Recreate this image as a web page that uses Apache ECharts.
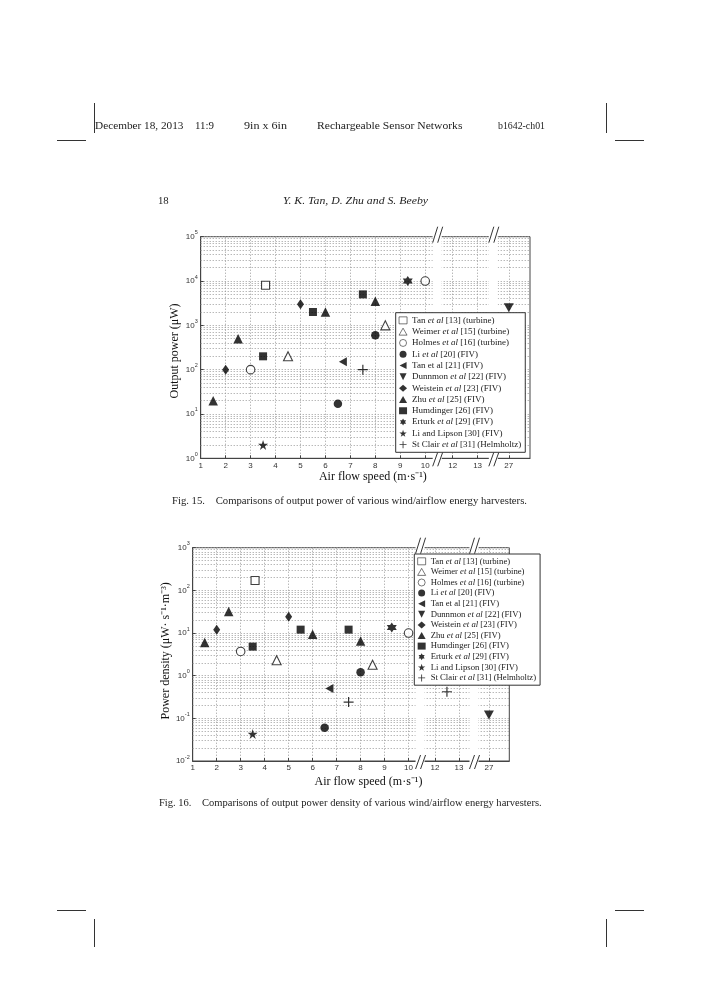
<!DOCTYPE html>
<html>
<head>
<meta charset="utf-8">
<script src="https://cdn.jsdelivr.net/npm/echarts@6/dist/echarts.min.js"></script>
<style>
  body { margin: 0; background: #fff; }
  #page { position: relative; width: 706px; height: 1000px; overflow: hidden; }
  #chart { position: absolute; left: 0; top: 0; width: 706px; height: 1000px; }
  .t { position: absolute; white-space: pre; font-family: "Liberation Serif", serif; color: #222;
       line-height: 1; transform-origin: 0 50%; }
  .mark { position: absolute; background: #333; }
</style>
</head>
<body>
<div id="page">
  <div id="chart"></div>

  <div class="mark" style="left:94px;top:103px;width:1px;height:30px"></div>
  <div class="mark" style="left:57px;top:140px;width:29px;height:1px"></div>
  <div class="mark" style="left:606px;top:103px;width:1px;height:30px"></div>
  <div class="mark" style="left:615px;top:140px;width:29px;height:1px"></div>
  <div class="mark" style="left:57px;top:910px;width:29px;height:1px"></div>
  <div class="mark" style="left:94px;top:919px;width:1px;height:28px"></div>
  <div class="mark" style="left:615px;top:910px;width:29px;height:1px"></div>
  <div class="mark" style="left:606px;top:919px;width:1px;height:28px"></div>

  <div class="t" data-x="95" data-y="125.5" data-w="88.5" style="font-size:11.4px">December 18, 2013</div>
  <div class="t" data-x="194.7" data-y="125.5" data-w="19" style="font-size:11.4px">11:9</div>
  <div class="t" data-x="243.7" data-y="125.5" data-w="43" style="font-size:11.4px">9in x 6in</div>
  <div class="t" data-x="317.2" data-y="125.5" data-w="145.4" style="font-size:11.4px">Rechargeable Sensor Networks</div>
  <div class="t" data-x="498.2" data-y="125.5" data-w="47" style="font-size:11.4px">b1642-ch01</div>

  <div class="t" data-x="157.6" data-y="200" data-w="10.7" style="font-size:11.4px">18</div>
  <div class="t" data-x="283" data-y="200" data-w="145" style="font-size:11.4px;font-style:italic">Y. K. Tan, D. Zhu and S. Beeby</div>

  <div class="t" data-x="172" data-y="501.7" data-w="355" style="font-size:10.6px">Fig. 15.    Comparisons of output power of various wind/airflow energy harvesters.</div>
  <div class="t" data-x="158.7" data-y="803" data-w="382.7" style="font-size:10.6px">Fig. 16.    Comparisons of output power density of various wind/airflow energy harvesters.</div>
</div>
<script>
// fit page texts to their measured widths
document.querySelectorAll('.t').forEach((el) => {
  const w = el.getBoundingClientRect().width;
  el.style.left = el.dataset.x + 'px';
  el.style.top = (parseFloat(el.dataset.y) - el.offsetHeight / 2) + 'px';
  el.style.transform = 'scaleX(' + (parseFloat(el.dataset.w) / w) + ')';
});

// x axis with two breaks: real speed -> axis position
const xTicks = [1, 2, 3, 4, 5, 6, 7, 8, 9, 10, 12, 13, 27];
const breakFrom = [10, 12, 13, 27];
const breakTo = [10, 11.1, 12.1, 13.35];
const breakMarks = [10.5, 12.75];

const names = [
  'Tan et al [13] (turbine)', 'Weimer et al [15] (turbine)', 'Holmes et al [16] (turbine)',
  'Li et al [20] (FIV)', 'Tan et al [21] (FIV)', 'Dunnmon et al [22] (FIV)',
  'Weistein et al [23] (FIV)', 'Zhu et al [25] (FIV)', 'Humdinger [26] (FIV)',
  'Erturk et al [29] (FIV)', 'Li and Lipson [30] (FIV)', 'St Clair et al [31] (Helmholtz)'
];

// Fig. 15: output power (uW) vs air flow speed (m/s)
const pwTan13 = [[3.6, 8000]];
const pwWeimer = [[4.5, 200], [8.4, 1000]];
const pwHolmes = [[3, 100], [10, 10000]];
const pwLi20 = [[6.5, 17], [8, 600]];
const pwTan21 = [[6.7, 150]];
const pwDunnmon = [[27, 2500]];
const pwWeistein = [[2, 100], [5, 3000]];
const pwZhu = [[1.5, 20], [2.5, 500], [6, 2000], [8, 3500]];
const pwHumdinger = [[3.5, 200], [5.5, 2000], [7.5, 5000]];
const pwErturk = [[9.3, 10000]];
const pwLipson = [[3.5, 2]];
const pwStClair = [[7.5, 100]];

// Fig. 16: power density (uW s^-1 m^-3) vs air flow speed (m/s)
const pdTan13 = [[3.6, 170]];
const pdWeimer = [[4.5, 2.3], [8.5, 1.8]];
const pdHolmes = [[3, 3.7], [10, 10]];
const pdLi20 = [[6.5, 0.06], [8, 1.2]];
const pdTan21 = [[6.7, 0.5]];
const pdDunnmon = [[27, 0.12]];
const pdWeistein = [[2, 12], [5, 24]];
const pdZhu = [[1.5, 6], [2.5, 32], [6, 9.3], [8, 6.5]];
const pdHumdinger = [[3.5, 4.8], [5.5, 12], [7.5, 12]];
const pdErturk = [[9.3, 13.5]];
const pdLipson = [[3.5, 0.043]];
const pdStClair = [[7.5, 0.24], [12.5, 0.42]];

const powerSets = [pwTan13, pwWeimer, pwHolmes, pwLi20, pwTan21, pwDunnmon,
  pwWeistein, pwZhu, pwHumdinger, pwErturk, pwLipson, pwStClair];
const densitySets = [pdTan13, pdWeimer, pdHolmes, pdLi20, pdTan21, pdDunnmon,
  pdWeistein, pdZhu, pdHumdinger, pdErturk, pdLipson, pdStClair];

function toAxis(x) {
  if (x <= breakFrom[0]) return x;
  for (let i = 1; i < breakFrom.length; i++) {
    if (x <= breakFrom[i]) {
      const t = (x - breakFrom[i - 1]) / (breakFrom[i] - breakFrom[i - 1]);
      return breakTo[i - 1] + t * (breakTo[i] - breakTo[i - 1]);
    }
  }
  return breakTo[breakTo.length - 1];
}

const HEX = 'path://M50,0L64.5,25L93.3,25L79,50L93.3,75L64.5,75L50,100L35.5,75L6.7,75L21,50L6.7,25L35.5,25Z';
const STAR = 'path://M50,0L61.2,34.5L97.6,34.5L68.2,55.9L79.4,90.5L50,69.1L20.6,90.5L31.8,55.9L2.4,34.5L38.8,34.5Z';
const PLUS = 'path://M4.4,0H5.6V4.4H10V5.6H5.6V10H4.4V5.6H0V4.4H4.4Z';
const LEFT = 'path://M0,5L10,0L10,10Z';
const DOWN = 'path://M0,0L10,0L5,10Z';
const marks = [
  { symbol: 'rect', size: 8, open: true },
  { symbol: 'triangle', size: 9, open: true },
  { symbol: 'circle', size: 8.5, open: true },
  { symbol: 'circle', size: 8.5 },
  { symbol: LEFT, size: [8, 9] },
  { symbol: DOWN, size: [10, 9] },
  { symbol: 'diamond', size: [7, 10] },
  { symbol: 'triangle', size: 9.5 },
  { symbol: 'rect', size: 8 },
  { symbol: HEX, size: 10 },
  { symbol: STAR, size: 10 },
  { symbol: PLUS, size: 10 }
];

const serif = '"Liberation Serif", serif';
const sans = '"Liberation Sans", Arial, sans-serif';
const dotted = { color: '#9a9a9a', width: 1, type: [1, 2] };

function legendLabel(name) {
  if (name.indexOf('[21]') >= 0) return name;
  return name.replace(' et al ', ' {i|et al} ');
}

function xAxisFor(gi, nameShift, nameGap) {
  const pos = xTicks.map(toAxis);
  return {
    type: 'value', gridIndex: gi, min: 1, max: 14.2,
    name: 'Air flow speed (m·s⁻¹)', nameLocation: 'middle', nameGap: nameGap,
    nameTextStyle: { fontFamily: serif, fontSize: 12, color: '#111', padding: [0, 0, 0, nameShift] },
    axisLine: { lineStyle: { color: '#444' } },
    axisTick: { inside: true, length: 3, customValues: pos, lineStyle: { color: '#444' } },
    axisLabel: {
      customValues: pos, margin: 3, fontFamily: sans, fontSize: 8, color: '#333',
      formatter: (v) => {
        const i = pos.findIndex((p) => Math.abs(p - v) < 1e-6);
        return i >= 0 ? String(xTicks[i]) : '';
      }
    },
    splitLine: { show: true, lineStyle: dotted }
  };
}

function yAxisFor(gi, min, max, title, gap, shift) {
  return {
    type: 'log', logBase: 10, gridIndex: gi, min: min, max: max,
    name: title, nameLocation: 'middle', nameGap: gap, nameRotate: 90,
    nameTextStyle: { fontFamily: serif, fontSize: 12, color: '#111', padding: [0, shift, 0, 0] },
    axisLine: { lineStyle: { color: '#444' } },
    axisTick: { inside: true, length: 3, lineStyle: { color: '#444' } },
    axisLabel: {
      margin: 3, showMinLabel: true, showMaxLabel: true,
      formatter: (v) => '{b|10}{e|' + Math.round(Math.log10(v)) + '}',
      rich: {
        b: { fontFamily: sans, fontSize: 8, color: '#333' },
        e: { fontFamily: sans, fontSize: 5.5, color: '#333', padding: [0, 0, 8, 0] }
      }
    },
    splitLine: { show: true, lineStyle: dotted }
  };
}

function minorLines(min, max) {
  const out = [];
  for (let d = min; d < max; d *= 10) {
    for (let k = 2; k <= 9; k++) out.push({ yAxis: d * k });
  }
  return out;
}

function helperSeries(gi, min, max) {
  return {
    type: 'custom', xAxisIndex: gi, yAxisIndex: gi, z: 2, silent: true, clip: false,
    data: breakMarks.map((b) => [b, min]),
    renderItem: (params, api) => {
      const cs = params.coordSys;
      const c = api.coord([api.value(0), min])[0];
      const y0 = cs.y, y1 = cs.y + cs.height;
      const st = { stroke: '#333', lineWidth: 1 };
      return {
        type: 'group',
        children: [
          { type: 'rect', shape: { x: c - 5, y: y0 - 1, width: 9, height: cs.height + 2 }, style: { fill: '#fff' } },
          { type: 'line', shape: { x1: c - 5, y1: y0 + 6, x2: c, y2: y0 - 10 }, style: st },
          { type: 'line', shape: { x1: c, y1: y0 + 6, x2: c + 5, y2: y0 - 10 }, style: st },
          { type: 'line', shape: { x1: c - 5, y1: y1 + 8, x2: c, y2: y1 - 6 }, style: st },
          { type: 'line', shape: { x1: c, y1: y1 + 8, x2: c + 5, y2: y1 - 6 }, style: st }
        ]
      };
    },
    markLine: {
      silent: true, symbol: 'none', label: { show: false }, animation: false, z: 1,
      lineStyle: dotted, data: minorLines(min, max)
    }
  };
}

function scatterSeries(gi, sets) {
  return sets.map((pts, i) => ({
    type: 'scatter', name: names[i], xAxisIndex: gi, yAxisIndex: gi, z: 3,
    symbol: marks[i].symbol, symbolSize: marks[i].size,
    itemStyle: marks[i].open
      ? { color: '#fff', borderColor: '#111', borderWidth: 1.1 }
      : { color: '#000', borderWidth: 0 },
    data: pts.map((p) => [toAxis(p[0]), p[1]])
  }));
}

function legendFor(left, top, fontSize, lineHeight) {
  return {
    orient: 'vertical', left: left, top: top, data: names,
    backgroundColor: '#fff', borderColor: '#333', borderWidth: 1,
    padding: [2, 4, 2, 3], itemGap: 0, itemWidth: 8, itemHeight: 7,
    selectedMode: false, z: 10,
    itemStyle: { borderWidth: 0.7 },
    formatter: legendLabel,
    textStyle: {
      fontFamily: serif, fontSize: fontSize, color: '#222', lineHeight: lineHeight,
      rich: { i: { fontFamily: serif, fontSize: fontSize, fontStyle: 'italic', color: '#222', lineHeight: lineHeight } }
    }
  };
}

const chart = echarts.init(document.getElementById('chart'));
chart.setOption({
  animation: false,
  grid: [
    { left: 200.7, top: 236.7, width: 329.3, height: 221.6, show: true, borderColor: '#444', borderWidth: 1, outerBoundsMode: 'none' },
    { left: 192.7, top: 547.7, width: 316.6, height: 213.3, show: true, borderColor: '#444', borderWidth: 1, outerBoundsMode: 'none' }
  ],
  xAxis: [xAxisFor(0, 15, 12.5), xAxisFor(1, 35, 15)],
  yAxis: [
    yAxisFor(0, 1, 1e5, 'Output power (μW)', 20, 7),
    yAxisFor(1, 0.01, 1e3, 'Power density (μW· s⁻¹·m⁻³)', 21, -7)
  ],
  legend: [legendFor(395.7, 312.7, 9, 11.3), legendFor(414.3, 554, 8.7, 10.6)],
  series: [helperSeries(0, 1, 1e5), helperSeries(1, 0.01, 1e3)]
    .concat(scatterSeries(0, powerSets), scatterSeries(1, densitySets))
});
</script>
</body>
</html>
